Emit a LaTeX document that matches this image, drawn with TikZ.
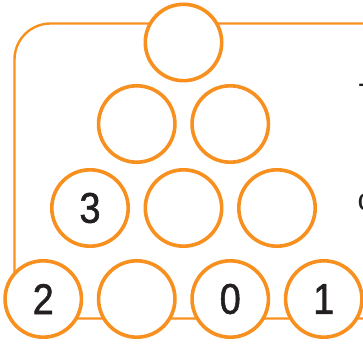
\documentclass[tikz,border=0pt]{standalone}
\usepackage{fontspec}
\newfontfamily\digitfont[FakeStretch=0.88,FakeBold=1.2]{Liberation Sans}
\newfontfamily\sidefont{Liberation Sans}
\definecolor{frameorange}{RGB}{247,144,30}
\definecolor{digitink}{RGB}{35,31,32}
\tikzset{
  ball/.style={circle, draw=frameorange, fill=white, line width=3.6pt,
    minimum size=76.4pt, inner sep=0pt, font=\digitfont\fontsize{43}{43}\selectfont, text=digitink},
  framebox/.style={draw=frameorange, line width=2.4pt, rounded corners=36pt},
  sidetext/.style={inner sep=0pt, anchor=base west, text=digitink, font=\sidefont\fontsize{31}{31}\selectfont}
}
\begin{document}
\begin{tikzpicture}[x=1pt,y=-1pt]
\useasboundingbox (0,0) rectangle (363,344);
\begin{scope}
\clip (0,0) rectangle (363,344);
\coordinate (fnw) at (14.5,23.5);
\coordinate (fse) at (420,318.5);
\draw[framebox] (fnw) rectangle (fse);
\node[sidetext] (t1) at (358.5,106) {T};
\node[sidetext] (t2) at (357.5,211) {c};
\node[ball] (a1) at (183.5,42.5) {};
\node[ball] (b1) at (136.75,124) {};
\node[ball] (b2) at (230.25,124) {};
\node[ball] (c1) at (90,208) {3};
\node[ball] (c2) at (183.5,208) {};
\node[ball] (c3) at (277,208) {};
\node[ball] (d1) at (43.25,299) {2};
\node[ball] (d2) at (136.75,299) {};
\node[ball] (d3) at (230.25,299) {0};
\node[ball] (d4) at (323.75,299) {1};
\end{scope}
\end{tikzpicture}
\end{document}
